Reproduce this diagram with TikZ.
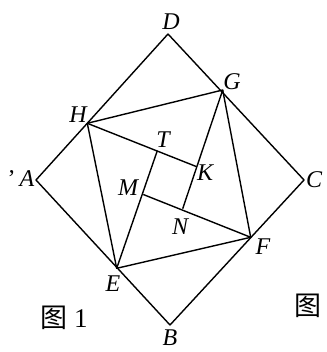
\documentclass[tikz,border=0pt]{standalone}
\usepackage{fontspec}
\setmainfont{Liberation Serif}
\newfontfamily\cjk{Noto Sans CJK SC}
\usetikzlibrary{positioning,calc}

\tikzset{
    pt/.style={font=\fontsize{24}{28}\selectfont\itshape, inner sep=0pt},
    edge/.style={line width=1.4pt, line join=round},
    figcap/.style={font=\fontsize{27}{30}\selectfont, inner sep=0pt}
}

\begin{document}
\begin{tikzpicture}[x=1pt,y=-1pt]
                \useasboundingbox (0,0) rectangle (326,352);
                % outer square
                \coordinate (A) at (36,180);
                \coordinate (B) at (170,325);
                \coordinate (C) at (304,180);
                \coordinate (D) at (168,34);
                % inner square
                \coordinate (E) at (116.7,268.3);
                \coordinate (F) at (250.7,237.3);
                \coordinate (G) at (222.7,90);
                \coordinate (H) at (87.3,123.3);
                % small square
                \coordinate (T) at (157.3,150.7);
                \coordinate (K) at (196.7,166.7);
                \coordinate (N) at (182.7,208.7);
                \coordinate (M) at (143.3,194.5);
                \draw[edge] (A) -- (D) -- (C) -- (B) -- cycle;
                \draw[edge] (E) -- (F) -- (G) -- (H) -- cycle;
                \draw[edge] (H) -- (K);
                \draw[edge] (G) -- (N);
                \draw[edge] (F) -- (M);
                \draw[edge] (E) -- (T);
                % labels
                \node[pt] (lD) at (171,22) {D};
                \node[pt] (lG) at (232,82) {G};
                \node[pt] (lH) at (78,115) {H};
                \node[pt] (lA) at (21,179) {\upshape'\,\itshape A};
                \node[pt] (lC) at (314,180) {C};
                \node[pt] (lB) at (170,338) {B};
                \node[pt] (lE) at (113,284) {E};
                \node[pt] (lF) at (263,247) {F};
                \node[pt] (lT) at (163,140) {T};
                \node[pt] (lK) at (205,173) {K};
                \node[pt] (lM) at (128,188) {M};
                \node[pt] (lN) at (180,227) {N};
                \node[figcap] (fig1) at (64,318) {{\cjk 图}\ 1};
                \node[figcap] (fig2) at (308,306) {\cjk 图};
            \end{tikzpicture}
\end{document}
